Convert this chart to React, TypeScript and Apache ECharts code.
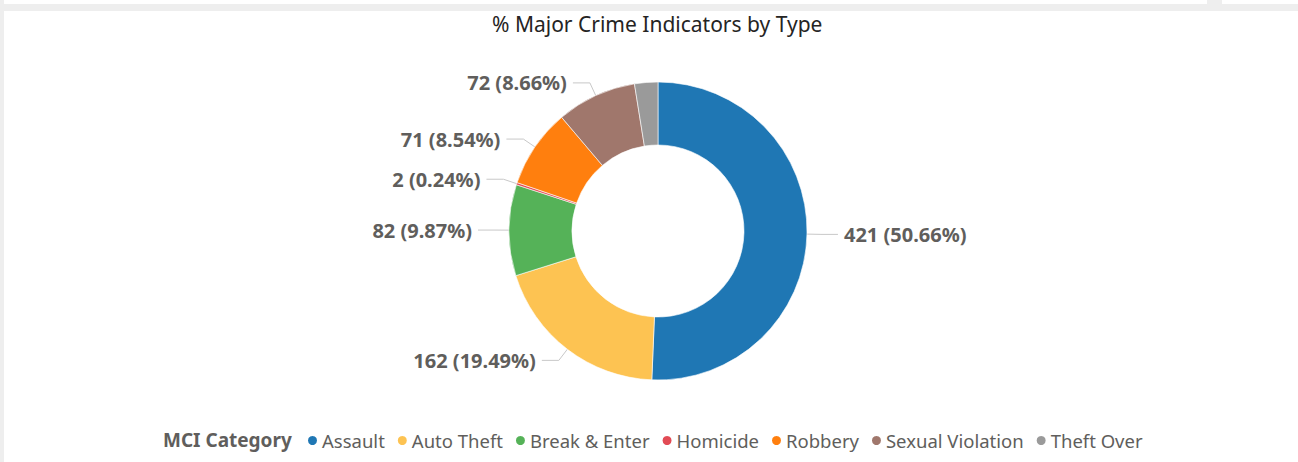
import React, { useEffect, useRef } from "react";
import * as echarts from "echarts";

const categories = ["Assault", "Auto Theft", "Break & Enter", "Homicide", "Robbery", "Sexual Violation", "Theft Over"];
const counts = [421, 162, 82, 2, 71, 72, 21];
const colors = ["#1f77b4", "#fdc352", "#55b258", "#e24b55", "#ff7f0e", "#a0776c", "#9a9a9a"];
const hiddenLabels = ["Theft Over"];

export default function App() {
  const ref = useRef<HTMLDivElement>(null);
  useEffect(() => {
    document.body.style.margin = "0";
    const chart = echarts.init(ref.current!, undefined, { renderer: "svg" });
    const total = counts.reduce((a, b) => a + b, 0);
    const font = "'Noto Sans', 'Open Sans', sans-serif";
    chart.setOption({
      animation: false,
      backgroundColor: "#eeeeee",
      graphic: [
        { type: "rect", silent: true, z: -10, shape: { x: 4, y: 0, width: 1203, height: 4 }, style: { fill: "#ffffff" } },
        { type: "rect", silent: true, z: -10, shape: { x: 1222, y: 0, width: 76, height: 4 }, style: { fill: "#ffffff" } },
        { type: "rect", silent: true, z: -10, shape: { x: 4, y: 11, width: 1294, height: 451 }, style: { fill: "#ffffff" } },
        {
          type: "text",
          left: 163,
          top: 430,
          style: { text: "MCI Category", fill: "#605e5c", font: `bold 19px ${font}` },
        },
      ],
      title: {
        text: "% Major Crime Indicators by Type",
        left: 487,
        top: 8,
        textStyle: { fontFamily: font, fontSize: 21, fontWeight: "normal", color: "#252423" },
      },
      color: colors,
      legend: {
        left: 306,
        top: 431,
        padding: 0,
        icon: "circle",
        itemWidth: 11,
        itemHeight: 11,
        itemGap: 11,
        textStyle: { fontFamily: font, fontSize: 18.5, color: "#605e5c", padding: [0, 0, 0, -1] },
        data: categories,
      },
      series: [
        {
          type: "pie",
          center: [658, 231],
          radius: [86, 149],
          startAngle: 90,
          clockwise: true,
          avoidLabelOverlap: true,
          itemStyle: { borderColor: "#ffffff", borderWidth: 0.6 },
          label: {
            show: true,
            position: "outside",
            formatter: (p: any) => `${p.value} (${((p.value / total) * 100).toFixed(2)}%)`,
            fontFamily: font,
            fontSize: 20,
            fontWeight: "bold",
            color: "#605e5c",
            distanceToLabelLine: 6,
          },
          labelLine: { show: true, length: 14, length2: 17, lineStyle: { color: "#c8c8c8", width: 1 } },
          emphasis: { disabled: true },
          data: categories.map((c, i) => ({
            name: c,
            value: counts[i],
            label: hiddenLabels.includes(c) ? { show: false } : undefined,
            labelLine: hiddenLabels.includes(c) ? { show: false } : undefined,
          })),
        },
      ],
    });
    return () => chart.dispose();
  }, []);
  return <div ref={ref} style={{ width: 1298, height: 462 }} />;
}
